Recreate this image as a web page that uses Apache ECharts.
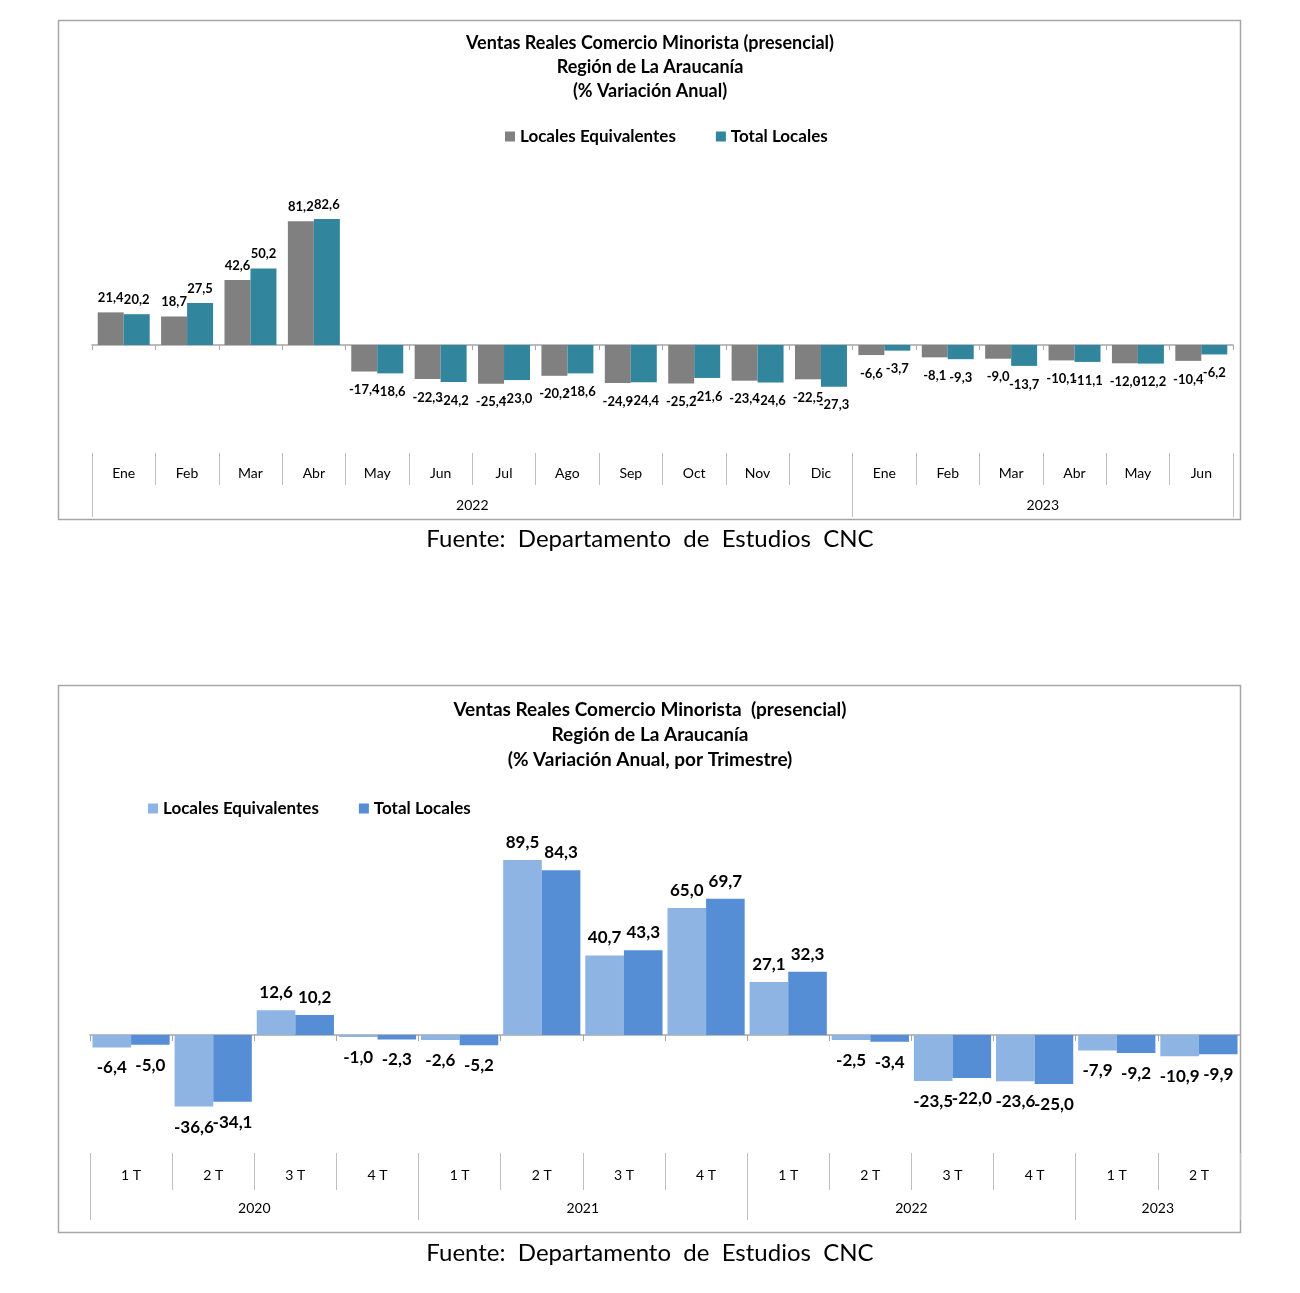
<!DOCTYPE html>
<html>
<head>
<meta charset="utf-8">
<script src="https://cdn.jsdelivr.net/npm/echarts@6/dist/echarts.min.js"></script>
<style>
html,body{margin:0;padding:0;background:#fff;}
#c{width:1300px;height:1293px;}
</style>
</head>
<body>
<div id="c"></div>
<script>
// ---------- Chart 1 data (monthly) ----------
const monthLabels = ['Ene','Feb','Mar','Abr','May','Jun','Jul','Ago','Sep','Oct','Nov','Dic','Ene','Feb','Mar','Abr','May','Jun'];
const monthYears = ['2022','2023'];
const monthYearSpans = [12, 6];
const monthLocalesEq = [21.4, 18.7, 42.6, 81.2, -17.4, -22.3, -25.4, -20.2, -24.9, -25.2, -23.4, -22.5, -6.6, -8.1, -9.0, -10.1, -12.0, -10.4];
const monthTotal = [20.2, 27.5, 50.2, 82.6, -18.6, -24.2, -23.0, -18.6, -24.4, -21.6, -24.6, -27.3, -3.7, -9.3, -13.7, -11.1, -12.2, -6.2];

// ---------- Chart 2 data (quarterly) ----------
const quarterLabels = ['1 T','2 T','3 T','4 T','1 T','2 T','3 T','4 T','1 T','2 T','3 T','4 T','1 T','2 T'];
const quarterYears = ['2020','2021','2022','2023'];
const quarterYearSpans = [4, 4, 4, 2];
const quarterLocalesEq = [-6.4, -36.6, 12.6, -1.0, -2.6, 89.5, 40.7, 65.0, 27.1, -2.5, -23.5, -23.6, -7.9, -10.9];
const quarterTotal = [-5.0, -34.1, 10.2, -2.3, -5.2, 84.3, 43.3, 69.7, 32.3, -3.4, -22.0, -25.0, -9.2, -9.9];

const FONT = 'Lato, "Open Sans", sans-serif';
const fmt = v => v.toFixed(1).replace('.', ',');

function bounds(spans){ const b=[0]; spans.forEach(s=>b.push(b[b.length-1]+s)); return b; }
function mids(spans){ const b=bounds(spans); return spans.map((s,i)=>b[i]+s/2); }

const mB = bounds(monthYearSpans), mM = mids(monthYearSpans);
const qB = bounds(quarterYearSpans), qM = mids(quarterYearSpans);

const chart = echarts.init(document.getElementById('c'), null, {renderer:'canvas'});

const tickGray = '#bfbfbf';
const axisGray = '#a6a6a6';

// label distance differs slightly for positive / negative bars
function withDist(arr, pos, neg){
  return arr.map(v => ({value: v, label: {distance: v >= 0 ? pos : neg}}));
}

const option = {
  backgroundColor: '#ffffff',
  animation: false,
  textStyle: {fontFamily: FONT},
  title: [
    {
      text: 'Ventas Reales Comercio Minorista (presencial)\nRegión de La Araucanía\n(% Variación Anual)',
      left: 'center', top: 26,
      textStyle: {fontFamily: FONT, fontSize: 18, fontWeight: 'bold', color: '#000', lineHeight: 24}
    },
    {
      text: 'Ventas Reales Comercio Minorista  (presencial)\nRegión de La Araucanía\n(% Variación Anual, por Trimestre)',
      left: 'center', top: 692,
      textStyle: {fontFamily: FONT, fontSize: 19, fontWeight: 'bold', color: '#000', lineHeight: 25}
    }
  ],
  legend: [
    {
      data: ['Locales Equivalentes', 'Total Locales'],
      left: 500, top: 123, itemWidth: 10, itemHeight: 10, itemGap: 40, icon: 'rect',
      textStyle: {fontFamily: FONT, fontSize: 17, fontWeight: 'bold', color: '#000'}
    },
    {
      data: ['Locales Equivalentes ', 'Total Locales '],
      left: 143, top: 795, itemWidth: 10, itemHeight: 10, itemGap: 40, icon: 'rect',
      formatter: n => n.trim(),
      textStyle: {fontFamily: FONT, fontSize: 17, fontWeight: 'bold', color: '#000'}
    }
  ],
  grid: [
    {left: 92, right: 67, top: 207.75, bottom: 856.5},
    {left: 90, right: 60, top: 839.5, bottom: 160.25}
  ],
  xAxis: [
    // chart 1 zero line
    {gridIndex: 0, type: 'category', data: monthLabels.map((m,i)=>i+'|'+m), position: 'bottom',
     axisLine: {show: true, onZero: true, lineStyle: {color: axisGray, width: 1.5}},
     axisTick: {show: true, length: 5, lineStyle: {color: axisGray}}, axisLabel: {show: false}},
    // chart 1 months
    {gridIndex: 0, type: 'category', data: monthLabels.map((m,i)=>i+'|'+m), position: 'bottom', offset: 16.5,
     axisLine: {show: false, onZero: false},
     axisTick: {show: true, length: 32, lineStyle: {color: tickGray}},
     axisLabel: {margin: 13, fontSize: 14, color: '#000', fontFamily: FONT, formatter: v => v.split('|')[1]}},
    // chart 1 years
    {gridIndex: 0, type: 'value', min: 0, max: monthLabels.length, position: 'bottom', offset: 48.5,
     axisLine: {show: false, onZero: false}, splitLine: {show: false},
     axisTick: {show: true, length: 32, lineStyle: {color: tickGray}, customValues: mB},
     axisLabel: {margin: 13, fontSize: 14, color: '#000', fontFamily: FONT, customValues: mM,
       formatter: v => { const i = mM.indexOf(v); return i >= 0 ? monthYears[i] : ''; }}},
    // chart 2 zero line
    {gridIndex: 1, type: 'category', data: quarterLabels.map((m,i)=>i+'|'+m), position: 'bottom',
     axisLine: {show: true, onZero: true, lineStyle: {color: axisGray, width: 1.5}},
     axisTick: {show: true, length: 6, lineStyle: {color: axisGray}}, axisLabel: {show: false}},
    // chart 2 quarters
    {gridIndex: 1, type: 'category', data: quarterLabels.map((m,i)=>i+'|'+m), position: 'bottom', offset: 20.25,
     axisLine: {show: false, onZero: false},
     axisTick: {show: true, length: 37, lineStyle: {color: tickGray}},
     axisLabel: {margin: 15, fontSize: 14, color: '#000', fontFamily: FONT, formatter: v => v.split('|')[1]}},
    // chart 2 years
    {gridIndex: 1, type: 'value', min: 0, max: quarterLabels.length, position: 'bottom', offset: 57.25,
     axisLine: {show: false, onZero: false}, splitLine: {show: false},
     axisTick: {show: true, length: 30, lineStyle: {color: tickGray}, customValues: qB},
     axisLabel: {margin: 11, fontSize: 14, color: '#000', fontFamily: FONT, customValues: qM,
       formatter: v => { const i = qM.indexOf(v); return i >= 0 ? quarterYears[i] : ''; }}}
  ],
  yAxis: [
    {gridIndex: 0, type: 'value', min: -60, max: 90, show: false, splitLine: {show: false}},
    {gridIndex: 1, type: 'value', min: -50, max: 100, show: false, splitLine: {show: false}}
  ],
  series: [
    {name: 'Locales Equivalentes', type: 'bar', xAxisIndex: 0, yAxisIndex: 0, data: withDist(monthLocalesEq, 8, 12),
     barGap: '0%', barCategoryGap: '18%', itemStyle: {color: '#808080'},
     label: {show: true, position: 'outside', formatter: p => fmt(p.value),
       fontFamily: FONT, fontSize: 13, fontWeight: 'bold', color: '#000'}},
    {name: 'Total Locales', type: 'bar', xAxisIndex: 0, yAxisIndex: 0, data: withDist(monthTotal, 8, 12),
     barGap: '0%', barCategoryGap: '18%', itemStyle: {color: '#31859c'},
     label: {show: true, position: 'outside', formatter: p => fmt(p.value),
       fontFamily: FONT, fontSize: 13, fontWeight: 'bold', color: '#000'}},
    {name: 'Locales Equivalentes ', type: 'bar', xAxisIndex: 3, yAxisIndex: 1, data: withDist(quarterLocalesEq, 9, 12),
     barGap: '0%', barCategoryGap: '6%', itemStyle: {color: '#8db4e2'},
     label: {show: true, position: 'outside', formatter: p => fmt(p.value),
       fontFamily: FONT, fontSize: 17, fontWeight: 'bold', color: '#000'}},
    {name: 'Total Locales ', type: 'bar', xAxisIndex: 3, yAxisIndex: 1, data: withDist(quarterTotal, 9, 12),
     barGap: '0%', barCategoryGap: '6%', itemStyle: {color: '#558ed5'},
     label: {show: true, position: 'outside', formatter: p => fmt(p.value),
       fontFamily: FONT, fontSize: 17, fontWeight: 'bold', color: '#000'}}
  ],
  graphic: [
    {type: 'rect', shape: {x: 58.5, y: 20.5, width: 1182, height: 499}, silent: true, z: -1,
     style: {fill: 'none', stroke: '#a6a6a6', lineWidth: 1.5}},
    {type: 'rect', shape: {x: 58.5, y: 685.5, width: 1182, height: 547}, silent: true, z: -1,
     style: {fill: 'none', stroke: '#a6a6a6', lineWidth: 1.5}},
    {type: 'text', left: 'center', top: 527,
     style: {text: 'Fuente:  Departamento  de  Estudios  CNC', font: '24px Lato, "Open Sans", sans-serif', fill: '#000'}},
    {type: 'text', left: 'center', top: 1241,
     style: {text: 'Fuente:  Departamento  de  Estudios  CNC', font: '24px Lato, "Open Sans", sans-serif', fill: '#000'}}
  ]
};
chart.setOption(option);
</script>
</body>
</html>
